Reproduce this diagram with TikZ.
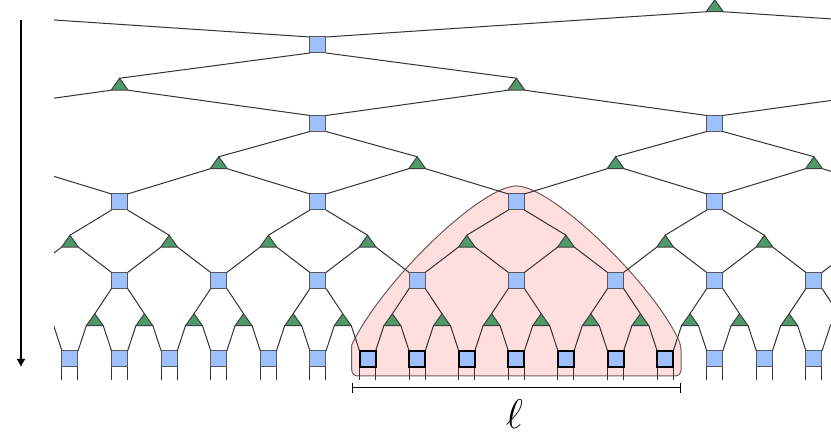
\documentclass[tikz,border=0pt]{standalone}
\usetikzlibrary{arrows.meta}

\definecolor{sitefill}{RGB}{158,192,255}
\definecolor{isofill}{RGB}{78,154,104}
\definecolor{conefill}{RGB}{255,222,222}
\definecolor{coneline}{RGB}{110,90,90}

\begin{document}
\begin{tikzpicture}[
    x=24.8pt,
    y=19.625pt,
    >={Latex[length=4pt,width=4.5pt]},
    leg/.style={
        draw=black!80,
        line width=0.5pt
    },
    unitary/.style={
        rectangle,
        draw=black!65,
        fill=sitefill,
        line width=0.5pt,
        minimum size=8pt,
        inner sep=0pt,
        outer sep=0pt
    },
    iso/.style={
        draw=black!75,
        fill=isofill,
        line width=0.5pt
    },
    cone/.style={
        draw=coneline,
        fill=conefill,
        line width=0.5pt
    }
]

\useasboundingbox (-1.411,-1.860) rectangle (15.343,9.146);

%--------------------------------------------------
% causal cone of the block
\path[cone]
    (5.68,0.357) [rounded corners=3pt] -- (5.68,-0.433) -- (12.32,-0.433) -- (12.32,0.357)
    [sharp corners] .. controls (11.718,1.972) and (9.714,4.408) .. (9,4.408)
    .. controls (8.286,4.408) and (6.282,1.972) .. (5.68,0.357) -- cycle;

\coordinate (bot) at (0,-0.535);

\begin{scope}
\clip (-0.32,-1.860) rectangle (15.343,9.146);

% tensors, level by level
\foreach \lev/\per/\lo/\hi in {0/2/-38/70, 1/4/-38/70, 2/8/-38/66, 3/16/-38/58, 4/32/-22/42}{
    \pgfmathtruncatemacro\lon{\lo+\per}
    \pgfmathtruncatemacro\ta{\lo-\per/2}
    \pgfmathtruncatemacro\tn{\lo+\per/2}
    \pgfmathtruncatemacro\tb{\hi+\per/2}
    \foreach \h in {\ta,\tn,...,\tb}{
        \coordinate[xshift=-4.25pt,yshift=-3pt] (t\lev-\h-l) at (\h/2,2*\lev+1);
        \coordinate[xshift=4.25pt,yshift=-3pt] (t\lev-\h-r) at (\h/2,2*\lev+1);
        \coordinate[yshift=3pt] (t\lev-\h-a) at (\h/2,2*\lev+1);
        \filldraw[iso] (t\lev-\h-l) -- (t\lev-\h-r) -- (t\lev-\h-a) -- cycle;
    }
    \foreach \h in {\lo,\lon,...,\hi}{
        \node[unitary] (s\lev-\h) at (\h/2,2*\lev) {};
    }
}

% bonds
\foreach \lev/\per/\lo/\hi in {0/2/-38/70, 1/4/-38/70, 2/8/-38/66, 3/16/-38/58, 4/32/-22/42}{
    \pgfmathtruncatemacro\lon{\lo+\per}
    \pgfmathtruncatemacro\half{\per/2}
    \pgfmathtruncatemacro\quart{\per/4}
    \pgfmathtruncatemacro\prev{\lev-1}
    \foreach \h in {\lo,\lon,...,\hi}{
        \pgfmathtruncatemacro\hl{\h-\half}
        \pgfmathtruncatemacro\hr{\h+\half}
        \draw[leg] (s\lev-\h.north west) -- (t\lev-\hl-r);
        \draw[leg] (s\lev-\h.north east) -- (t\lev-\hr-l);
        \ifnum\lev>0
            \pgfmathtruncatemacro\bl{\h-\quart}
            \pgfmathtruncatemacro\br{\h+\quart}
            \draw[leg] (s\lev-\h.south west) -- (t\prev-\bl-a);
            \draw[leg] (s\lev-\h.south east) -- (t\prev-\br-a);
        \else
            \draw[leg] (s0-\h.south west) -- (s0-\h.south west |- bot);
            \draw[leg] (s0-\h.south east) -- (s0-\h.south east |- bot);
        \fi
    }
}

% sites of the block
\foreach \h in {12,14,...,24}{
    \draw[line width=1pt] (s0-\h.south west) rectangle (s0-\h.north east);
}
\end{scope}

%--------------------------------------------------
\coordinate (len-l) at (5.68,-0.739);
\coordinate (len-r) at (12.32,-0.739);
\draw[{Bar[width=5pt]}-{Bar[width=5pt]}, line width=0.5pt] (len-l) -- (len-r);
\node[font=\fontsize{22pt}{26pt}\selectfont, anchor=base, inner sep=0pt] (len) at (8.96,-1.76) {$\ell$};

% direction of the flow
\coordinate (flow-top) at (-0.988,8.637);
\coordinate (flow-end) at (-0.988,-0.204);
\draw[->, line width=0.6pt] (flow-top) -- (flow-end);

\end{tikzpicture}
\end{document}
